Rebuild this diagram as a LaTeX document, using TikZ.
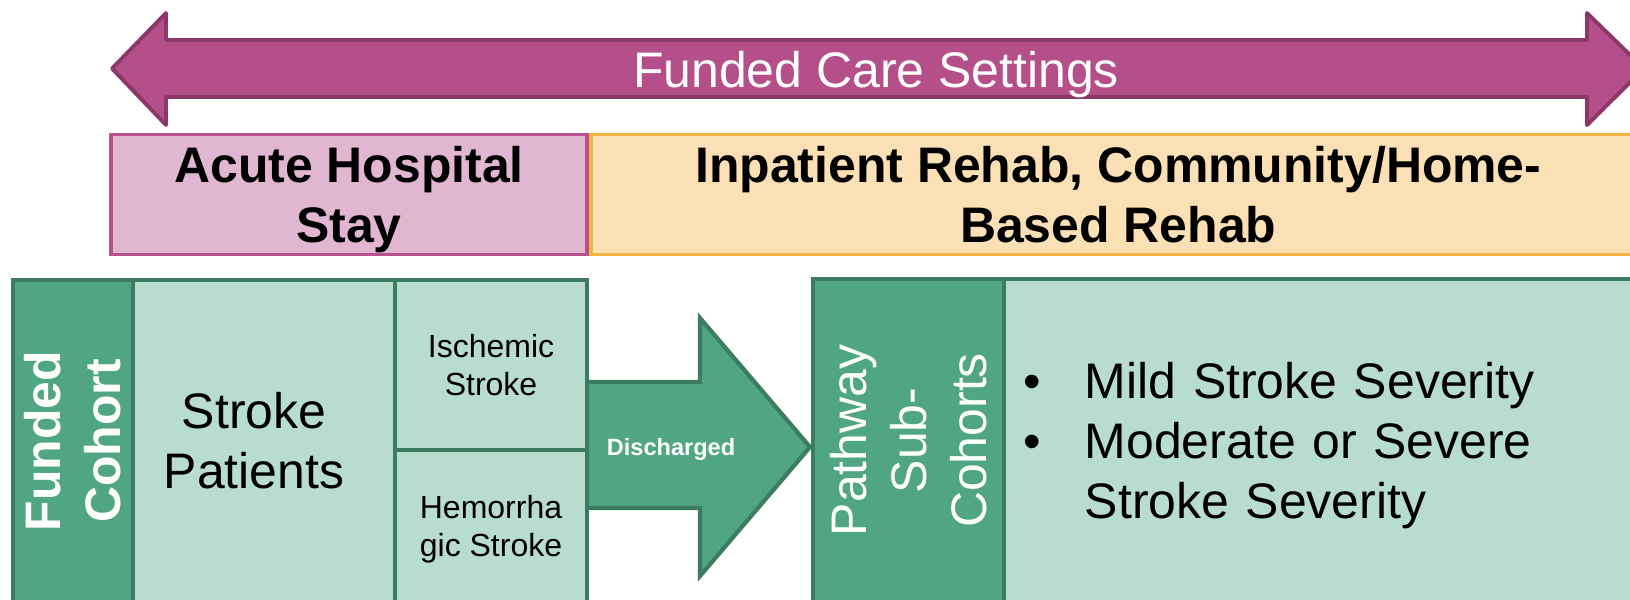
\documentclass[tikz,border=0pt]{standalone}
\usepackage{fontspec}
\setmainfont{Liberation Sans}
\usetikzlibrary{positioning}

\definecolor{arrowpurple}{RGB}{180,79,138}
\definecolor{arrowborder}{RGB}{139,55,104}
\definecolor{acutepink}{RGB}{224,182,208}
\definecolor{acuteborder}{RGB}{183,82,143}
\definecolor{rehaborange}{RGB}{250,224,180}
\definecolor{rehabborder}{RGB}{242,180,64}
\definecolor{cohortgreen}{RGB}{80,166,131}
\definecolor{bordergreen}{RGB}{60,125,98}
\definecolor{cellgreen}{RGB}{185,220,208}

\begin{document}
\begin{tikzpicture}[x = 0.01cm, y = -0.01cm,
  big/.style = {font = \fontsize{14.2}{17.1}\selectfont},
  bigbold/.style = {font = \fontsize{14.2}{17.1}\selectfont\bfseries},
  small/.style = {font = \fontsize{9.1}{10.8}\selectfont},
  setting/.style = {shape = rectangle, line width = 1.1pt, align = center, inner sep = 0pt},
  darkcell/.style = {shape = rectangle, fill = cohortgreen, draw = bordergreen, line width = 1.2pt, text = white, align = center, inner sep = 0pt},
  lightcell/.style = {shape = rectangle, fill = cellgreen, draw = bordergreen, line width = 1.2pt, align = center, inner sep = 0pt}]
\useasboundingbox (0,0) rectangle (1630,599);
\clip (0,0) rectangle (1630,599);

% care settings
\filldraw[fill = arrowpurple, draw = arrowborder, line width = 1.1pt, line join = round]
  (112,68.5) -- (166,13) -- (166,40) -- (1587,40) -- (1587,13) -- (1644,68.5)
  -- (1587,125) -- (1587,97) -- (166,97) -- (166,125) -- cycle;
\node[big, text = white] (settings) at (876,75) {Funded Care Settings};

\node[setting, bigbold, fill = acutepink, draw = acuteborder, minimum width = 4.76cm, minimum height = 1.2cm] (acute) at (349,194.5) {Acute Hospital\\\smash{Stay}};
\node[setting, bigbold, fill = rehaborange, draw = rehabborder, minimum width = 10.54cm, minimum height = 1.2cm, right = 0pt of acute] (rehab) {Inpatient Rehab, Community/Home-\\Based Rehab};

% cohort
\filldraw[fill = cohortgreen, draw = bordergreen, line width = 1.2pt]
  (587,382) -- (700,382) -- (700,318) -- (810,447) -- (700,576) -- (700,508) -- (587,508) -- cycle;
\node[font = \fontsize{6.7}{8}\selectfont\bfseries, text = white] (discharged) at (671,449.5) {Discharged};

\node[darkcell, bigbold, rotate = 90, minimum width = 3.22cm, minimum height = 1.2cm] (cohort) at (73,441) {Funded\\Cohort};
\node[lightcell, big, minimum width = 2.62cm, minimum height = 3.22cm] (patients) at (264,441) {Stroke\kern0.2cm\\Patients\kern0.2cm};
\node[lightcell, small, minimum width = 1.92cm, minimum height = 1.7cm] (ischemic) at (491,365) {Ischemic\\Stroke};
\node[lightcell, small, minimum width = 1.92cm, minimum height = 1.52cm] (hemorrhagic) at (491,526) {Hemorrha\\\smash{gic Stroke}};

% sub-cohorts
\node[darkcell, big, rotate = 90, minimum width = 3.23cm, minimum height = 1.91cm] (pathway) at (908.5,440.5) {Pathway\\Sub-\\Cohorts};
\node[lightcell, big, minimum width = 6.41cm, minimum height = 3.23cm, text width = 6.01cm, inner xsep = 0.2cm, align = left] (severity) at (1324.5,440.5)
  {\makebox[0.61cm][l]{\textbullet}Mild Stroke Severity\\
   \makebox[0.61cm][l]{\textbullet}Moderate or Severe\\
   \hspace*{0.61cm}\smash{Stroke Severity}};
\end{tikzpicture}
\end{document}
